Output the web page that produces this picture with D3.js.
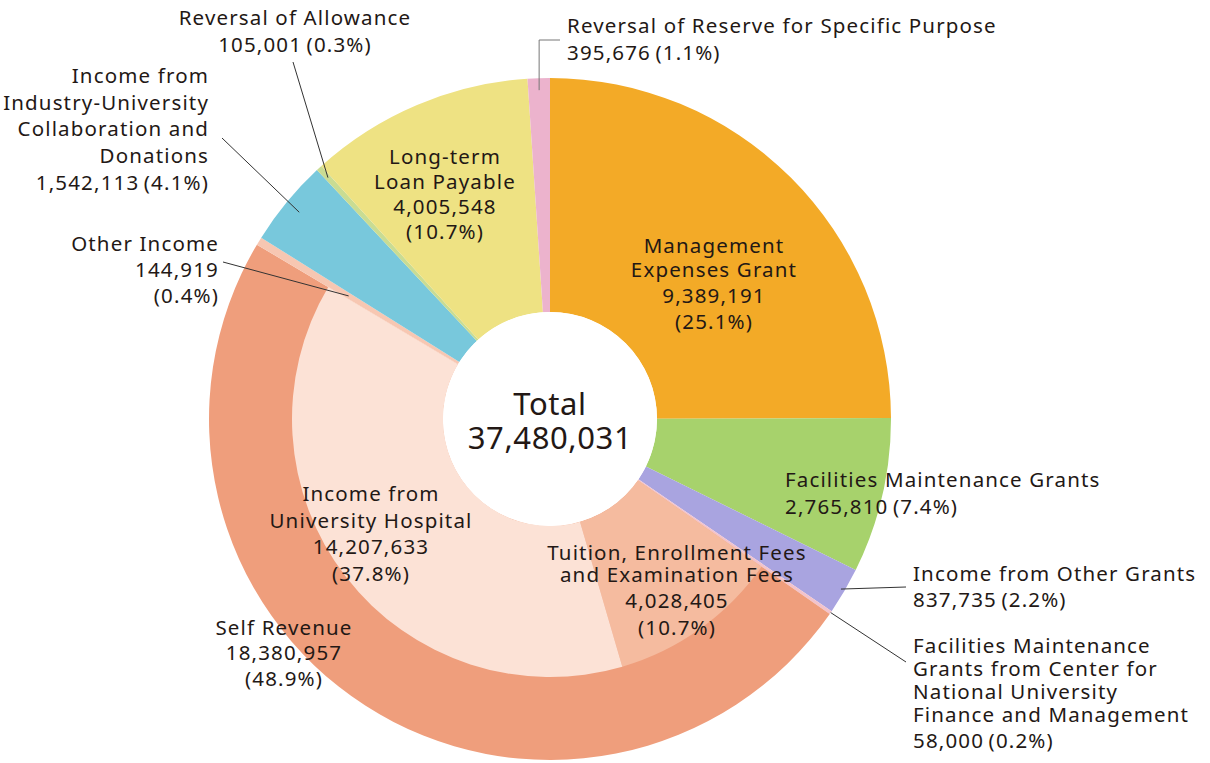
<!DOCTYPE html>
<html>
<head>
<meta charset="utf-8">
<script src="https://cdn.jsdelivr.net/npm/d3@7"></script>
<style>
  body { margin: 0; background: #fff; }
  svg text { font-family: "Noto Sans", sans-serif; fill: #231815; }
</style>
</head>
<body>
<svg id="chart" width="1210" height="763"></svg>
<script>
// Outer ring: revenue sources, clockwise from 12 o'clock
const categories = [
  "Management Expenses Grant",
  "Facilities Maintenance Grants",
  "Income from Other Grants",
  "Facilities Maintenance Grants from Center",
  "Self Revenue",
  "Other Income",
  "Income from Industry-University Collaboration and Donations",
  "Reversal of Allowance",
  "Long-term Loan Payable",
  "Reversal of Reserve for Specific Purpose"
];
const values = [9389191, 2765810, 837735, 58000, 18380957, 144919, 1542113, 105001, 4005548, 395676];
const colors = ["#f3aa27", "#a7d26c", "#a9a4e0", "#f2c3cc", "#ef9e7c", "#f7c7b2", "#78c8dc", "#c9dc93", "#eee283", "#ecb3cd"];

// Inner split of Self Revenue
const subCategories = ["Tuition, Enrollment Fees and Examination Fees", "Income from University Hospital"];
const subValues = [4028405, 14207633];
const subColors = ["#f5bb9f", "#fce2d6"];

const totalLabel = ["Total", "37,480,031"];

const svg = d3.select("#chart");
const cx = 550, cy = 419;
const R = 341, Rsub = 258, Rhole = 107;

const g = svg.append("g").attr("transform", `translate(${cx},${cy})`);

const pie = d3.pie().sort(null).value(d => d);
const arcs = pie(values);

const arc = d3.arc().innerRadius(Rhole).outerRadius(R);
g.selectAll("path.outer")
  .data(arcs)
  .join("path")
  .attr("class", "outer")
  .attr("d", arc)
  .attr("fill", (d, i) => colors[i]);

// sub pie inside the Self Revenue slice
const self = arcs[4];
const subPie = d3.pie().sort(null).value(d => d)
  .startAngle(self.startAngle).endAngle(self.endAngle);
const subArc = d3.arc().innerRadius(Rhole).outerRadius(Rsub);
g.selectAll("path.inner")
  .data(subPie(subValues))
  .join("path")
  .attr("class", "inner")
  .attr("d", subArc)
  .attr("fill", (d, i) => subColors[i]);

g.append("circle").attr("r", Rhole).attr("fill", "#fff");

// helper: point on a slice's mid angle
function pointAt(d, r) {
  const a = (d.startAngle + d.endAngle) / 2;
  return [cx + r * Math.sin(a), cy - r * Math.cos(a)];
}

// leader lines: slice index, radius on slice, then label-side points
const leaders = [
  { i: 7, r: 328, pts: [[293, 62]] },
  { i: 6, r: 325, pts: [[222, 138]] },
  { i: 5, r: 236, pts: [[223, 262]] },
  { i: 2, r: 337, pts: [[906, 587]] },
  { i: 3, r: 341, pts: [[906, 662]] },
  { i: 9, r: 329, pts: [[560, 40]] }
];
const line = d3.line();
svg.append("g")
  .selectAll("path")
  .data(leaders)
  .join("path")
  .attr("d", d => {
    const p0 = pointAt(arcs[d.i], d.r);
    // the reserve leader goes straight up, then right
    const pts = d.i === 9 ? [p0, [p0[0], 40]].concat(d.pts) : [p0].concat(d.pts);
    return line(pts);
  })
  .attr("fill", "none")
  .attr("stroke", d => d.i === 9 ? "#777" : "#333")
  .attr("stroke-width", 1);

// labels: anchor, x, line centers, text lines
const labels = [
  { a: "middle", x: 295, ys: [17, 44], t: ["Reversal of Allowance", "105,001\u2009(0.3%)"] },
  { a: "start", x: 567, ys: [25, 52], t: ["Reversal of Reserve for Specific Purpose", "395,676\u2009(1.1%)"] },
  { a: "end", x: 209, ys: [75, 102, 128, 155, 182], t: ["Income from", "Industry-University", "Collaboration and", "Donations", "1,542,113\u2009(4.1%)"] },
  { a: "end", x: 219, ys: [243, 269, 295], t: ["Other Income", "144,919", "(0.4%)"] },
  { a: "middle", x: 445, ys: [156, 181, 206, 231], t: ["Long-term", "Loan Payable", "4,005,548", "(10.7%)"] },
  { a: "middle", x: 714, ys: [245, 269, 295, 321], t: ["Management", "Expenses Grant", "9,389,191", "(25.1%)"] },
  { a: "start", x: 785, ys: [479, 506], t: ["Facilities Maintenance Grants", "2,765,810\u2009(7.4%)"] },
  { a: "start", x: 913, ys: [573, 599], t: ["Income from Other Grants", "837,735\u2009(2.2%)"] },
  { a: "start", x: 913, ys: [645, 668, 691, 714, 740], t: ["Facilities Maintenance", "Grants from Center for", "National University", "Finance and Management", "58,000\u2009(0.2%)"] },
  { a: "middle", x: 677, ys: [552, 574, 600, 627], t: ["Tuition, Enrollment Fees", "and Examination Fees", "4,028,405", "(10.7%)"] },
  { a: "middle", x: 371, ys: [493, 520, 546, 573], t: ["Income from", "University Hospital", "14,207,633", "(37.8%)"] },
  { a: "middle", x: 284, ys: [627, 652, 678], t: ["Self Revenue", "18,380,957", "(48.9%)"] }
];

const lab = svg.append("g").attr("font-size", 20.5).attr("letter-spacing", "1.15px");
labels.forEach(l => {
  l.t.forEach((s, k) => {
    lab.append("text")
      .attr("x", l.x)
      .attr("y", l.ys[k])
      .attr("text-anchor", l.a)
      .attr("dominant-baseline", "central")
      .text(s);
  });
});

svg.append("g").attr("font-size", 31).attr("letter-spacing", "0.6px")
  .selectAll("text")
  .data(totalLabel)
  .join("text")
  .attr("x", cx)
  .attr("y", (d, i) => [403, 437][i])
  .attr("text-anchor", "middle")
  .attr("dominant-baseline", "central")
  .text(d => d);
</script>
</body>
</html>
